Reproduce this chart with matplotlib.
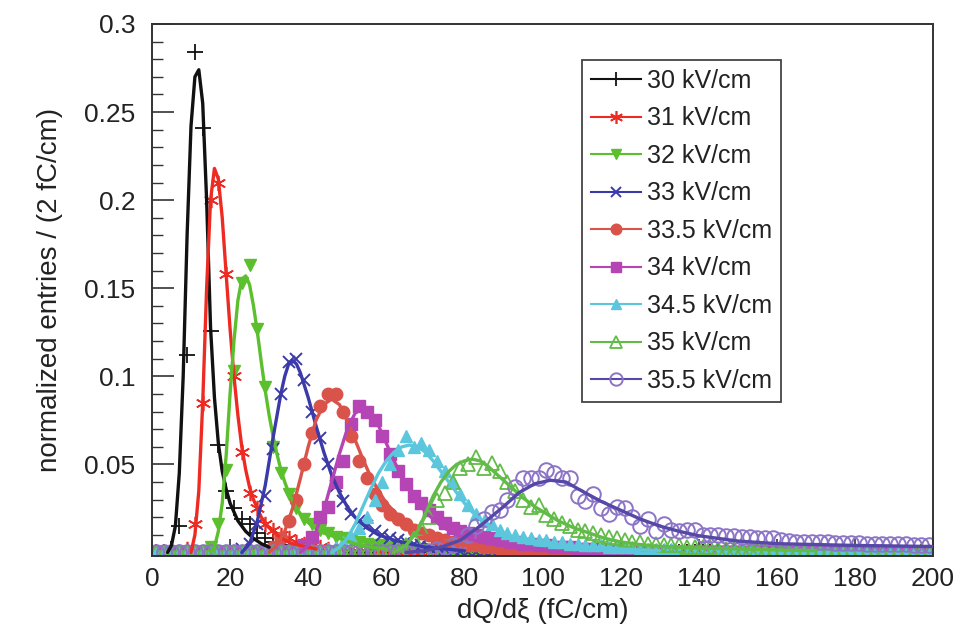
import numpy as np
import matplotlib
matplotlib.use("Agg")
import matplotlib.pyplot as plt
from matplotlib.lines import Line2D
from matplotlib.ticker import MultipleLocator

plt.rcParams['font.family'] = ['Liberation Sans', 'DejaVu Sans']

# ---------------- data ----------------
bin_width = 2
n_bins = 100   # 0..200 fC/cm in 2 fC/cm bins

labels = ["30 kV/cm", "31 kV/cm", "32 kV/cm", "33 kV/cm", "33.5 kV/cm",
          "34 kV/cm", "34.5 kV/cm", "35 kV/cm", "35.5 kV/cm"]

# histogram contents: first non-empty bin centre, then values of consecutive bins
data_30_start = 5
data_30 = [0.002, 0.015, 0.112, 0.284, 0.241, 0.126, 0.061, 0.035, 0.025, 0.019,
           0.016, 0.011, 0.008, 0.006, 0.004, 0.003, 0.002, 0.002, 0.001]
data_31_start = 9
data_31 = [0.002, 0.016, 0.085, 0.2, 0.21, 0.158, 0.1, 0.057, 0.034, 0.025, 0.016,
           0.013, 0.01, 0.008, 0.006, 0.005, 0.004, 0.003, 0.002, 0.002, 0.001]
data_32_start = 15
data_32 = [0.003, 0.016, 0.047, 0.103, 0.153, 0.163, 0.127, 0.094, 0.06, 0.045,
           0.033, 0.025, 0.019, 0.016, 0.013, 0.011, 0.009, 0.008, 0.007, 0.006,
           0.005, 0.004, 0.004, 0.003, 0.003, 0.002, 0.002, 0.002, 0.001]
data_33_start = 23
data_33 = [0.002, 0.005, 0.016, 0.032, 0.059, 0.09, 0.108, 0.11, 0.098, 0.08,
           0.065, 0.05, 0.038, 0.029, 0.022, 0.018, 0.015, 0.012, 0.01, 0.008,
           0.007, 0.006, 0.005, 0.004, 0.003, 0.003, 0.002, 0.002, 0.001]
data_335_start = 31
data_335 = [0.003, 0.008, 0.018, 0.03, 0.05, 0.068, 0.083, 0.09, 0.09, 0.08,
            0.066, 0.052, 0.042, 0.033, 0.027, 0.022, 0.019, 0.016, 0.013, 0.011,
            0.01, 0.008, 0.007, 0.006, 0.005, 0.004, 0.004, 0.003, 0.003, 0.002,
            0.002, 0.002, 0.001]
data_34_start = 37
data_34 = [0.002, 0.004, 0.009, 0.02, 0.026, 0.04, 0.052, 0.073, 0.083, 0.08,
           0.075, 0.066, 0.056, 0.046, 0.039, 0.032, 0.028, 0.024, 0.02, 0.017,
           0.014, 0.012, 0.011, 0.01, 0.009, 0.008, 0.007, 0.006, 0.006, 0.005,
           0.005, 0.004, 0.004, 0.003, 0.003, 0.003, 0.002, 0.002, 0.002, 0.002,
           0.001, 0.001]
data_345_start = 45
data_345 = [0.002, 0.003, 0.006, 0.009, 0.014, 0.02, 0.03, 0.04, 0.05, 0.058,
            0.066, 0.06, 0.062, 0.058, 0.052, 0.046, 0.04, 0.033, 0.027, 0.022,
            0.018, 0.016, 0.013, 0.011, 0.01, 0.009, 0.008, 0.007, 0.007, 0.006,
            0.006, 0.005, 0.005, 0.004, 0.004, 0.004, 0.003, 0.003, 0.003, 0.003,
            0.002, 0.002, 0.002, 0.002, 0.002, 0.001]
data_35_start = 63
data_35 = [0.002, 0.004, 0.008, 0.014, 0.02, 0.03, 0.034, 0.04, 0.048, 0.05,
           0.054, 0.048, 0.051, 0.046, 0.04, 0.035, 0.03, 0.026, 0.027, 0.021,
           0.019, 0.017, 0.015, 0.013, 0.012, 0.011, 0.01, 0.009, 0.008, 0.007,
           0.006, 0.006, 0.005, 0.005, 0.004, 0.004, 0.004, 0.003, 0.003, 0.003,
           0.003, 0.002, 0.002, 0.002, 0.002, 0.002, 0.002, 0.001]
data_355_start = 71
data_355 = [0.001, 0.002, 0.003, 0.004, 0.006, 0.01, 0.015, 0.019, 0.023, 0.024,
            0.03, 0.037, 0.042, 0.042, 0.042, 0.047, 0.045, 0.042, 0.042, 0.032,
            0.029, 0.033, 0.025, 0.022, 0.026, 0.025, 0.02, 0.015, 0.019, 0.012,
            0.016, 0.013, 0.012, 0.013, 0.013, 0.01, 0.01, 0.01, 0.0095, 0.0095,
            0.009, 0.009, 0.008, 0.008, 0.008, 0.007, 0.0065, 0.006, 0.006, 0.006,
            0.0058, 0.0058, 0.0056, 0.0056, 0.0056, 0.0055, 0.005, 0.005, 0.005, 0.005,
            0.005, 0.005, 0.0045, 0.0045, 0.0045]

# fitted curves
fit_30_x = [4, 5, 6, 7, 8, 9, 10, 11, 12, 13, 14, 15, 16, 17, 18, 19, 20, 22, 24, 26, 28, 30]
fit_30_y = [0.0, 0.004, 0.015, 0.045, 0.1, 0.18, 0.242, 0.27, 0.274, 0.255, 0.2, 0.128,
            0.088, 0.062, 0.046, 0.036, 0.028, 0.018, 0.012, 0.008, 0.005, 0.003]
fit_31_x = [10, 11, 12, 13, 14, 15, 16, 17, 18, 19, 20, 21, 22, 23, 24, 25, 26, 28, 30,
            32, 34, 36, 38, 40, 42]
fit_31_y = [0.0, 0.01, 0.035, 0.085, 0.15, 0.2, 0.218, 0.212, 0.19, 0.158, 0.127, 0.1,
            0.078, 0.06, 0.047, 0.037, 0.03, 0.02, 0.014, 0.01, 0.007, 0.005, 0.004,
            0.003, 0.002]
fit_32_x = [15, 16, 17, 18, 19, 20, 21, 22, 23, 24, 25, 26, 27, 28, 29, 30, 31, 32, 33,
            34, 35, 37, 39, 41, 44, 48, 52, 56, 60]
fit_32_y = [0.0, 0.003, 0.012, 0.028, 0.055, 0.09, 0.12, 0.143, 0.155, 0.157, 0.152,
            0.14, 0.125, 0.108, 0.092, 0.078, 0.066, 0.056, 0.047, 0.04, 0.034, 0.025,
            0.019, 0.015, 0.011, 0.008, 0.005, 0.003, 0.002]
fit_33_x = [23, 25, 27, 29, 31, 33, 34, 35, 36, 37, 38, 40, 42, 44, 46, 48, 50, 52, 55,
            58, 62, 66, 70, 75, 80]
fit_33_y = [0.0, 0.005, 0.018, 0.038, 0.065, 0.09, 0.1, 0.107, 0.109, 0.107, 0.102,
            0.088, 0.072, 0.057, 0.044, 0.034, 0.026, 0.02, 0.014, 0.01, 0.007, 0.005,
            0.003, 0.002, 0.001]
fit_335_x = [30, 32, 34, 36, 38, 40, 42, 44, 46, 48, 50, 52, 54, 56, 58, 60, 63, 66, 70,
             75, 80, 90]
fit_335_y = [0.0, 0.004, 0.012, 0.025, 0.042, 0.06, 0.075, 0.084, 0.087, 0.084, 0.075,
             0.064, 0.053, 0.043, 0.035, 0.028, 0.021, 0.015, 0.01, 0.006, 0.004, 0.002]
fit_34_x = [38, 40, 42, 44, 46, 48, 50, 52, 54, 56, 58, 60, 62, 64, 66, 68, 70, 74, 78,
            84, 90, 100]
fit_34_y = [0.0, 0.004, 0.012, 0.024, 0.04, 0.056, 0.07, 0.079, 0.082, 0.079, 0.072,
            0.062, 0.052, 0.043, 0.035, 0.029, 0.023, 0.015, 0.01, 0.006, 0.004, 0.002]
fit_345_x = [46, 48, 50, 52, 54, 56, 58, 60, 62, 64, 66, 68, 70, 72, 74, 76, 78, 80, 82,
             85, 88, 92, 96, 100, 110, 120, 130]
fit_345_y = [0.0, 0.003, 0.008, 0.016, 0.026, 0.036, 0.045, 0.052, 0.057, 0.06, 0.061,
             0.06, 0.057, 0.052, 0.046, 0.04, 0.034, 0.028, 0.023, 0.017, 0.013, 0.009,
             0.007, 0.005, 0.003, 0.002, 0.001]
fit_35_x = [62, 65, 68, 70, 72, 74, 76, 78, 80, 82, 84, 86, 88, 90, 92, 95, 98, 101, 104,
            108, 112, 116, 120, 125, 130, 140, 150, 160, 170]
fit_35_y = [0.0, 0.004, 0.012, 0.022, 0.032, 0.04, 0.046, 0.05, 0.052, 0.053, 0.052,
            0.049, 0.045, 0.041, 0.037, 0.031, 0.026, 0.022, 0.018, 0.014, 0.011, 0.008,
            0.006, 0.0045, 0.0035, 0.0025, 0.002, 0.0015, 0.001]
fit_355_x = [65, 70, 74, 79, 84, 90, 94, 98, 102, 106, 110, 115, 120, 125, 130, 135, 140,
             145, 150, 160, 170, 180, 190, 200]
fit_355_y = [0.0, 0.001, 0.003, 0.007, 0.015, 0.026, 0.034, 0.039, 0.041, 0.04, 0.035,
             0.029, 0.024, 0.019, 0.015, 0.012, 0.0095, 0.008, 0.0065, 0.005, 0.0045,
             0.004, 0.0037, 0.0034]

x_ticks = [0, 20, 40, 60, 80, 100, 120, 140, 160, 180, 200]
y_ticks = [0.05, 0.1, 0.15, 0.2, 0.25, 0.3]
y_tick_labels = ["0.05", "0.1", "0.15", "0.2", "0.25", "0.3"]

# ---------------- styles ----------------
styles = [
    # marker colour, line colour, marker, filled, size, edge width
    ("#111111", "#111111", "+", True, 12, 1.3),
    ("#ee2b22", "#ee2b22", (6, 2, 0), True, 11, 1.2),
    ("#5cbf2e", "#5cbf2e", "v", True, 9, 1.0),
    ("#3b3aa8", "#3b3aa8", "x", True, 9, 1.4),
    ("#d9534a", "#d9534a", "o", True, 9, 1.0),
    ("#b545b5", "#b545b5", "s", True, 8.5, 1.0),
    ("#5cc6dd", "#5cc6dd", "^", True, 9, 1.0),
    ("#62bb48", "#62bb48", "^", False, 10, 1.3),
    ("#8c74c6", "#5648a6", "o", False, 10.5, 1.4),
]

series_data = [(data_30_start, data_30), (data_31_start, data_31), (data_32_start, data_32),
               (data_33_start, data_33), (data_335_start, data_335), (data_34_start, data_34),
               (data_345_start, data_345), (data_35_start, data_35), (data_355_start, data_355)]
series_fit = [(fit_30_x, fit_30_y), (fit_31_x, fit_31_y), (fit_32_x, fit_32_y),
              (fit_33_x, fit_33_y), (fit_335_x, fit_335_y), (fit_34_x, fit_34_y),
              (fit_345_x, fit_345_y), (fit_35_x, fit_35_y), (fit_355_x, fit_355_y)]

centres = bin_width / 2 + bin_width * np.arange(n_bins)


def full_hist(start, vals):
    arr = np.zeros(n_bins)
    i0 = int((start - bin_width / 2) // bin_width)
    v = np.asarray(vals)[: n_bins - i0]
    arr[i0:i0 + len(v)] = v
    return arr


fig = plt.figure(figsize=(9.74, 6.41), dpi=100)
ax = fig.add_axes([0.156, 0.1326, 0.802, 0.830])

handles = []
for (start, vals), (fx, fy), st, lab in zip(series_data, series_fit, styles, labels):
    mcol, lcol, mk, filled, ms, mew = st
    h = full_hist(start, vals)
    ax.plot(centres, h, ls="none", marker=mk, ms=ms, mew=mew,
            mfc=mcol if filled else "none", mec=mcol, zorder=2)
    ax.plot(fx, fy, color=lcol, lw=2.4, zorder=3, solid_capstyle="round")
    handles.append(Line2D([], [], color=lcol, lw=1.5, marker=mk, ms=ms * 0.85, mew=mew,
                          mfc=mcol if filled else "none", mec=mcol, label=lab))

ax.set_xlim(0, 200)
ax.set_ylim(-0.002, 0.3)
ax.set_xticks(x_ticks)
ax.set_xticklabels([str(t) for t in x_ticks])
ax.set_yticks(y_ticks)
ax.set_yticklabels(y_tick_labels)
ax.yaxis.set_minor_locator(MultipleLocator(0.01))

ax.tick_params(axis="both", which="major", direction="in", labelsize=19, colors="#333333",
               labelcolor="#222222")
ax.tick_params(axis="y", which="major", length=16, width=1.2, pad=12)
ax.tick_params(axis="y", which="minor", direction="in", length=8, width=1.0, colors="#333333")
ax.tick_params(axis="x", which="major", length=12, width=1.2, pad=8)
ax.tick_params(top=False, right=False)

for sp in ax.spines.values():
    sp.set_color("#333333")
    sp.set_linewidth(1.4)

ax.set_xlabel("dQ/d\u03be (fC/cm)", fontsize=20, color="#222222", labelpad=5)
ax.set_ylabel("normalized entries / (2 fC/cm)", fontsize=20, color="#222222", labelpad=15)

leg = ax.legend(handles=handles, loc="upper left", bbox_to_anchor=(0.551, 0.932),
                fontsize=18, frameon=True, fancybox=False, framealpha=1,
                edgecolor="#444444", handlelength=2.0, handletextpad=0.25,
                labelspacing=0.54, borderpad=0.35, borderaxespad=0.0)
leg.get_frame().set_linewidth(1.3)
for t in leg.get_texts():
    t.set_color("#222222")

fig.savefig("out.png", dpi=100)
